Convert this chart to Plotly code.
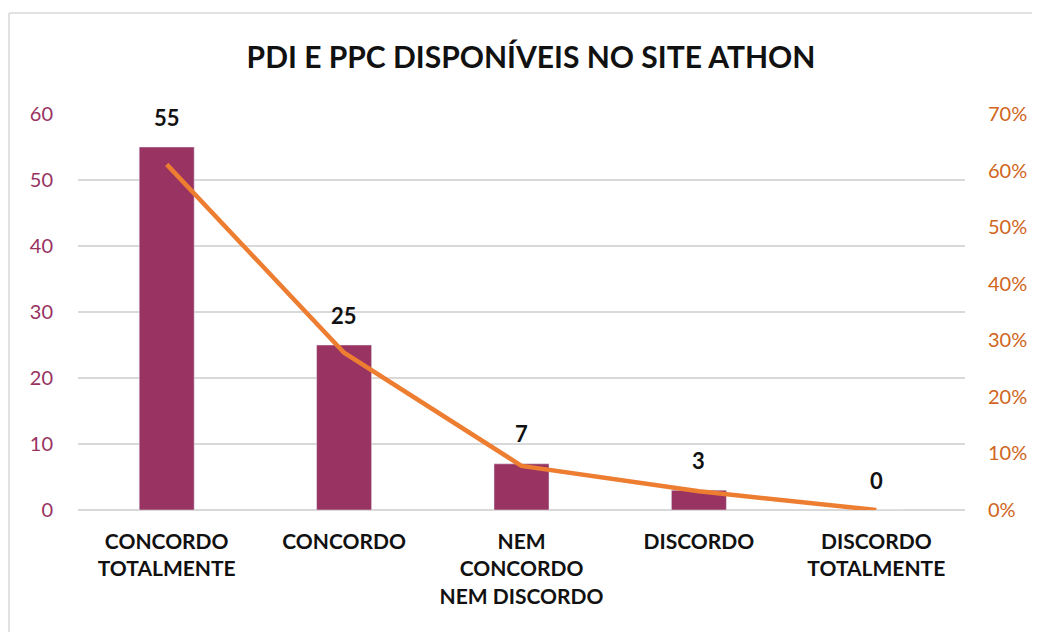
import plotly.graph_objects as go

categories = ["CONCORDO<br>TOTALMENTE", "CONCORDO", "NEM<br>CONCORDO<br>NEM DISCORDO", "DISCORDO", "DISCORDO<br>TOTALMENTE"]
counts = [55, 25, 7, 3, 0]
percents = [0.611, 0.278, 0.078, 0.033, 0.0]
left_ticks = [0, 10, 20, 30, 40, 50, 60]
right_ticks = [0, 0.1, 0.2, 0.3, 0.4, 0.5, 0.6, 0.7]

BAR = "#983362"
LINE = "#ED7D31"
FONT = "Lato"

# page body has an 8px margin, so the figure is sized to fit the window
W, H = 1032, 624
L, R, T, B = 70, 75, 106, 122

fig = go.Figure()
fig.add_trace(go.Bar(x=categories, y=counts, marker_color=BAR, width=0.31, yaxis="y"))
fig.add_trace(go.Scatter(x=categories, y=percents, mode="lines",
                         line=dict(color=LINE, width=4.5), yaxis="y2"))

annotations = []
for c, v in zip(categories, counts):
    annotations.append(dict(x=c, y=v, xref="x", yref="y", text=f"<b>{v}</b>",
                            showarrow=False, yanchor="middle", yshift=30,
                            font=dict(family=FONT, size=22, color="#111111")))

pw = W - L - R
ph = H - T - B
fx0 = (1 - L) / pw
fx1 = (W + 40 - L) / pw
fy0 = (H - B - (H + 40)) / ph
fy1 = (H - B - 5) / ph
frame = dict(color="#D9D9D9", width=1.5)
fig.update_layout(
    width=W, height=H,
    margin=dict(l=L, r=R, t=T, b=B),
    paper_bgcolor="white", plot_bgcolor="white",
    showlegend=False,
    title=dict(text="<b>PDI E PPC DISPONÍVEIS NO SITE ATHON</b>", x=523 / W, xanchor="center",
               y=1 - 49 / H, yanchor="middle", font=dict(family=FONT, size=30, color="#111111")),
    xaxis=dict(tickfont=dict(family=FONT, size=21, color="#111111", weight="bold"), showgrid=False,
               showline=False, ticks="", tickangle=0, ticklabelstandoff=17),
    yaxis=dict(range=[0, 60], tickvals=left_ticks, showgrid=True, gridcolor="#D9D9D9", gridwidth=1.5,
               zeroline=True, zerolinecolor="#D9D9D9", zerolinewidth=1.5,
               tickfont=dict(family=FONT, size=20, color=BAR), ticklabelstandoff=24),
    yaxis2=dict(range=[0, 0.7], tickvals=right_ticks, tickformat=".0%", overlaying="y", side="right",
                showgrid=False, zeroline=False,
                tickfont=dict(family=FONT, size=20, color="#D0651C"), ticklabelstandoff=22),
    annotations=annotations,
    shapes=[
        dict(type="line", xref="paper", yref="paper", x0=fx0, x1=fx1, y0=fy1, y1=fy1,
             line=frame, layer="below"),
        dict(type="line", xref="paper", yref="paper", x0=fx0, x1=fx0, y0=fy0, y1=fy1,
             line=frame, layer="below"),
    ],
)

fig.write_html("out.html")
